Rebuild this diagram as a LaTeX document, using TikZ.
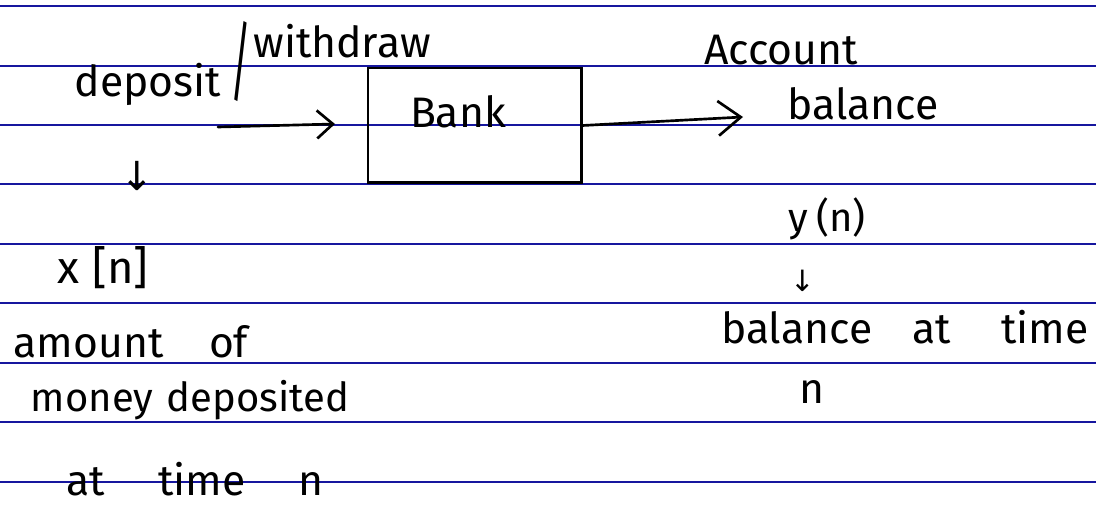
\documentclass[tikz,border=0pt]{standalone}
\usepackage{fontspec}
\setmainfont{Fira Sans}
\newfontfamily\arrowfont{DejaVu Sans}
\usepackage{amsmath}
\usetikzlibrary{arrows.meta}

\definecolor{ruleblue}{RGB}{22,22,158}
\newcommand{\handsize}{\fontsize{30}{34}\selectfont}

\tikzset{
  ruling/.style={draw=ruleblue, line width=1.5pt},
  ink/.style={draw=black, line width=2pt, line cap=round},
  hand/.style={inner sep=0pt, anchor=base, font=\handsize},
  smallbarb/.style={ink, -{Straight Barb[length=12pt,width=21pt,line width=2pt]}},
  bigbarb/.style={ink, -{Straight Barb[length=17pt,width=26pt,line width=2pt]}},
}

\begin{document}
\begin{tikzpicture}[x=0.75pt,y=0.75pt,yscale=-1,xscale=1]
    \useasboundingbox (0,0) rectangle (1096,506);

    %Straight Lines (ruled paper)
    \draw[ruling] (0,6) -- (1096,6);
    \draw[ruling] (0,66) -- (1096,66);
    \draw[ruling] (0,125) -- (1096,125);
    \draw[ruling] (0,184) -- (1096,184);
    \draw[ruling] (0,244) -- (1096,244);
    \draw[ruling] (0,303) -- (1096,303);
    \draw[ruling] (0,363) -- (1096,363);
    \draw[ruling] (0,422) -- (1096,422);
    \draw[ruling] (0,482) -- (1096,482);

    %Shape: Rectangle (the bank)
    \node[ink, minimum width=160pt, minimum height=86pt, inner sep=0pt] (bank) at (474.5,125.5) {};
    % Text Node
    \node[hand, font=\fontsize{32}{36}\selectfont] (banktxt) at (458,128) {Bank};

    % Text Node
    \node[hand, font=\fontsize{32}{36}\selectfont] (deposit) at (148,97) {deposit};
    % Text Node
    \node[hand, anchor=center] (slash) at (241,62) {\scalebox{1}[2.2]{/}};
    % Text Node
    \node[hand, font=\fontsize{32}{36}\selectfont] (withdraw) at (342,58) {withdraw};
    % Text Node
    \node[hand, anchor=center, font=\arrowfont\fontsize{30}{34}\selectfont] (xdown) at (137,176) {↓};
    % Text Node
    \node[hand, font=\fontsize{34}{38}\selectfont] (xn) at (103,283) {x\hspace{10pt}[n]};
    % Text Node
    \node[hand, font=\fontsize{32}{36}\selectfont] (amount) at (131,357) {amount\hspace{34pt}of};
    % Text Node
    \node[hand] (money) at (190,411) {money\hspace{10pt}deposited};
    % Text Node
    \node[hand, font=\fontsize{32}{36}\selectfont] (attime) at (195,495) {at\hspace{40pt}time\hspace{40pt}n};

    % Text Node
    \node[hand, font=\fontsize{32}{36}\selectfont] (account) at (781,65) {Account};
    % Text Node
    \node[hand, font=\fontsize{32}{36}\selectfont] (balance) at (863,120) {balance};
    % Text Node
    \node[hand] (yn) at (827,232) {y\hspace{6pt}(n)};
    % Text Node
    \node[hand, anchor=center, font=\arrowfont\fontsize{22}{26}\selectfont] (ydown) at (803,281) {↓};
    % Text Node
    \node[hand, font=\fontsize{32}{36}\selectfont] (balat) at (905,343) {balance\hspace{30pt}at\hspace{38pt}time};
    % Text Node
    \node[hand, font=\fontsize{32}{36}\selectfont] (ntime) at (812,403) {n};

    %Straight Lines (arrows)
    \coordinate (xin) at (218,127);
    \coordinate (xtip) at (335,124);
    \coordinate (ytip) at (743,117);
    \draw[smallbarb] (xin) -- (xtip);
    \draw[bigbarb] (bank.east) -- (ytip);

\end{tikzpicture}
\end{document}
